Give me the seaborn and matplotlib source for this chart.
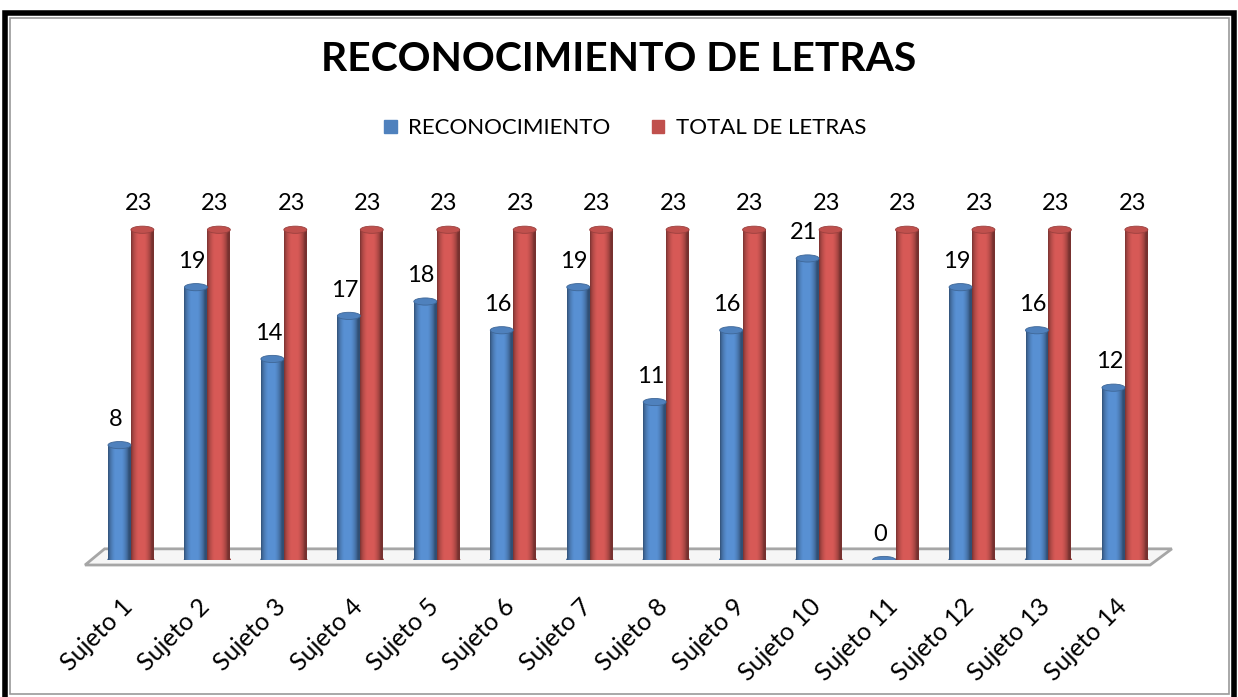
import numpy as np
import pandas as pd
import seaborn as sns
import matplotlib.pyplot as plt
import matplotlib.transforms as mtransforms
from matplotlib.patches import Ellipse, Polygon, Rectangle
from matplotlib.colors import to_rgb

sujetos = ['Sujeto 1', 'Sujeto 2', 'Sujeto 3', 'Sujeto 4', 'Sujeto 5', 'Sujeto 6', 'Sujeto 7',
           'Sujeto 8', 'Sujeto 9', 'Sujeto 10', 'Sujeto 11', 'Sujeto 12', 'Sujeto 13', 'Sujeto 14']
reconocimiento = [8, 19, 14, 17, 18, 16, 19, 11, 16, 21, 0, 19, 16, 12]
total_letras = [23] * 14
series = ['RECONOCIMIENTO', 'TOTAL DE LETRAS']
colores = ['#4f81bd', '#c0504d']

df = pd.DataFrame({
    'sujeto': sujetos * 2,
    'valor': reconocimiento + total_letras,
    'serie': [series[0]] * len(sujetos) + [series[1]] * len(sujetos),
})

sns.set_theme(style='white')
plt.rcParams['font.family'] = ['Lato', 'DejaVu Sans']
plt.rcParams['text.color'] = 'black'
plt.rcParams['xtick.color'] = 'black'

fig = plt.figure(figsize=(12.38, 6.97), dpi=100)
ax = fig.add_axes([0.0687, 0.1966, 0.877, 0.515])

sns.barplot(data=df, x='sujeto', y='valor', hue='serie', palette=colores,
            width=0.6, ax=ax, legend=False, saturation=1, linewidth=0)

# cylinder look: shading gradient + caps
prof = np.linspace(0, 1, 60)
shade = 0.62 + 0.55 * np.sin(np.pi * np.clip(prof * 1.1, 0, 1)) ** 0.7
shade = np.clip(shade, 0, 1.12)
ell_h = 0.5
for i, cont in enumerate(ax.containers):
    base = np.array(to_rgb(colores[i]))
    img = np.clip(base[None, :] * shade[:, None], 0, 1)[None, :, :]
    for bar, val in zip(cont, [reconocimiento, total_letras][i]):
        x0, w, h = bar.get_x(), bar.get_width(), bar.get_height()
        bar.set_alpha(0)
        if h > 0:
            ax.imshow(img, extent=(x0, x0 + w, 0, h), aspect='auto', zorder=2)
            ax.add_patch(Ellipse((x0 + w / 2, 0), w, ell_h, color=base * 0.85, zorder=1.9))
        ax.add_patch(Ellipse((x0 + w / 2, h), w, ell_h, facecolor=base,
                             edgecolor=base * 0.8, lw=0.6, zorder=3))
        ax.annotate(str(val), (x0 + w / 2, h), xytext=(-3, 11), textcoords='offset points',
                    ha='center', va='bottom', fontsize=17, color='black')

ax.set_xlim(-0.6, 13.6)
ax.set_ylim(0, 25)

# floor
floor = Polygon([(0, -0.014), (0.018, 0.031), (1.001, 0.031), (0.981, -0.014)],
                closed=True, transform=ax.transAxes, facecolor='#f6f6f6',
                edgecolor='#a6a6a6', lw=2, clip_on=False, zorder=0.5)
ax.add_patch(floor)

sns.despine(ax=ax, left=True, bottom=True)
ax.set_yticks([])
ax.set_xlabel('')
ax.set_ylabel('')
ax.tick_params(axis='x', length=0, pad=25)
shift = mtransforms.ScaledTranslation(-10 / 100, 0, fig.dpi_scale_trans)
for lab in ax.get_xticklabels():
    lab.set_rotation(45)
    lab.set_ha('right')
    lab.set_rotation_mode('anchor')
    lab.set_fontsize(18)
    lab.set_transform(lab.get_transform() + shift)

fig.text(0.5, 0.915, 'RECONOCIMIENTO DE LETRAS', ha='center', va='center',
         fontsize=29.3, fontweight='bold', color='black')

# legend
handles = [Rectangle((0, 0), 1, 1, color=c) for c in colores]
fig.legend(handles, series, loc='center', bbox_to_anchor=(0.505, 0.816), ncol=2,
           frameon=False, fontsize=16, handlelength=0.55, handleheight=0.55,
           columnspacing=1.9, handletextpad=0.5)

# frame
fig.add_artist(Rectangle((0.004, -0.01), 0.993, 0.992, transform=fig.transFigure,
                         fill=False, edgecolor='black', lw=4))
fig.add_artist(Rectangle((0.008, 0.004), 0.985, 0.97, transform=fig.transFigure,
                         fill=False, edgecolor='#9a9a9a', lw=1.2))

fig.savefig('out.png', dpi=100, facecolor='white')
